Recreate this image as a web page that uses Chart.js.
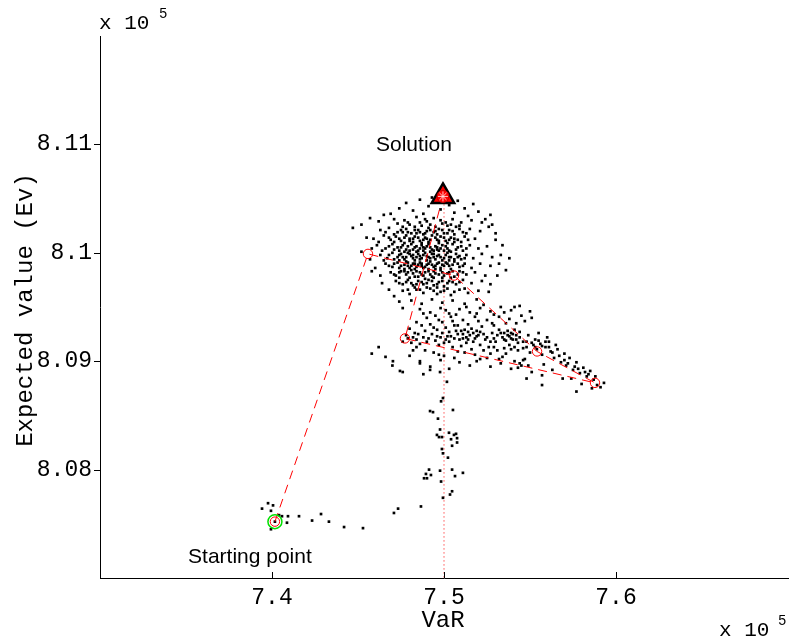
<!DOCTYPE html>
<html>
<head>
<meta charset="utf-8">
<script src="https://cdn.jsdelivr.net/npm/chart.js@4.4.0/dist/chart.umd.min.js"></script>
<style>
  html, body { margin: 0; padding: 0; background: #fff; }
  #wrap { width: 789px; height: 644px; }
</style>
</head>
<body>
<div id="wrap"><canvas id="chart" width="789" height="644"></canvas></div>
<script>
// values are in units of 10^5, as on the axes
const xRange = [7.3, 7.7];
const yRange = [8.07, 8.12];
const xTicks = [7.4, 7.5, 7.6];
const xTickLabels = ['7.4', '7.5', '7.6'];
const yTicks = [8.08, 8.09, 8.10, 8.11];
const yTickLabels = ['8.08', '8.09', '8.1', '8.11'];

// search path (red dashed with circles), start -> solution
const pathPoints = [
  [7.4017, 8.0752], [7.4558, 8.0999], [7.5058, 8.0979], [7.5541, 8.0909],
  [7.5878, 8.0880], [7.4773, 8.0921], [7.4994, 8.1052]
];
const startPoint = [7.4017, 8.0752];
const solutionPoint = [7.4994, 8.1052];
const solutionDrop = [[7.5, 8.1052], [7.5, 8.07]];

// sampled points (black dots)
const cloudPoints = [
  // near the solution
  [7.478,8.1046],[7.486,8.1049],[7.491,8.1043],[7.496,8.1047],[7.503,8.1044],[7.508,8.1048],[7.512,8.1041],[7.517,8.1045],
  [7.482,8.1039],[7.488,8.1036],[7.506,8.1037],[7.514,8.1034],[7.520,8.1038],[7.474,8.1041],[7.469,8.1036],[7.524,8.1031],
  [7.527,8.1035],[7.498,8.1040],[7.493,8.1051],[7.501,8.1050],
  // main cloud
  [7.471,8.1031],[7.479,8.1028],[7.484,8.1033],[7.490,8.1029],[7.494,8.1032],[7.499,8.1027],[7.505,8.1031],[7.510,8.1028],
  [7.516,8.1030],[7.487,8.1025],[7.476,8.1024],
  [7.463,8.1021],[7.468,8.1023],[7.473,8.1019],[7.478,8.1022],[7.481,8.1018],[7.485,8.1021],[7.488,8.1017],[7.491,8.1023],
  [7.494,8.1019],[7.497,8.1022],[7.500,8.1018],[7.503,8.1021],[7.507,8.1024],[7.511,8.1019],[7.515,8.1022],[7.521,8.1020],[7.526,8.1024],
  [7.459,8.1013],[7.465,8.1016],[7.469,8.1012],[7.472,8.1015],[7.475,8.1011],[7.478,8.1016],[7.480,8.1013],[7.483,8.1015],
  [7.486,8.1011],[7.489,8.1014],[7.491,8.1010],[7.493,8.1016],[7.496,8.1012],[7.498,8.1015],[7.501,8.1011],[7.504,8.1014],
  [7.508,8.1012],[7.512,8.1015],[7.518,8.1013],[7.530,8.1012],
  [7.461,8.1007],[7.466,8.1004],[7.470,8.1008],[7.473,8.1005],[7.476,8.1007],[7.478,8.1003],[7.481,8.1008],[7.483,8.1005],
  [7.485,8.1002],[7.487,8.1007],[7.489,8.1004],[7.491,8.1008],[7.493,8.1003],[7.495,8.1006],[7.497,8.1002],[7.499,8.1007],
  [7.502,8.1004],[7.505,8.1008],[7.508,8.1005],[7.511,8.1002],[7.515,8.1007],[7.520,8.1004],[7.525,8.1006],
  [7.463,8.0998],[7.467,8.0995],[7.470,8.1000],[7.473,8.0996],[7.475,8.0999],[7.477,8.0994],[7.479,8.1000],[7.481,8.0997],
  [7.483,8.0993],[7.485,8.0999],[7.487,8.0995],[7.489,8.1000],[7.491,8.0996],[7.493,8.0999],[7.495,8.0994],[7.497,8.0998],
  [7.500,8.0995],[7.502,8.1000],[7.504,8.0996],[7.507,8.0999],[7.510,8.0994],[7.513,8.0998],[7.517,8.0995],[7.522,8.0999],[7.528,8.0996],
  [7.466,8.0990],[7.470,8.0987],[7.473,8.0991],[7.475,8.0988],[7.478,8.0992],[7.480,8.0986],[7.482,8.0990],[7.484,8.0987],
  [7.486,8.0991],[7.488,8.0986],[7.490,8.0989],[7.492,8.0992],[7.494,8.0987],[7.496,8.0990],[7.498,8.0986],[7.501,8.0991],
  [7.503,8.0988],[7.506,8.0992],[7.509,8.0987],[7.512,8.0990],[7.516,8.0986],[7.521,8.0990],[7.527,8.0988],
  [7.469,8.0982],[7.472,8.0979],[7.475,8.0983],[7.478,8.0980],[7.481,8.0984],[7.483,8.0978],[7.486,8.0982],[7.488,8.0979],
  [7.491,8.0983],[7.493,8.0978],[7.495,8.0981],[7.498,8.0984],[7.500,8.0979],[7.503,8.0982],[7.506,8.0978],[7.509,8.0983],
  [7.513,8.0980],[7.518,8.0982],[7.524,8.0979],
  [7.472,8.0974],[7.476,8.0971],[7.479,8.0975],[7.482,8.0970],[7.485,8.0974],[7.488,8.0971],[7.491,8.0975],[7.494,8.0970],
  [7.497,8.0973],[7.500,8.0969],[7.503,8.0974],[7.507,8.0971],[7.511,8.0975],[7.516,8.0972],[7.522,8.0974],
  [7.476,8.0965],[7.480,8.0962],[7.484,8.0966],[7.488,8.0963],[7.492,8.0967],[7.496,8.0962],[7.500,8.0965],[7.504,8.0961],
  [7.509,8.0966],[7.514,8.0963],[7.520,8.0965],
  [7.481,8.0956],[7.487,8.0953],[7.493,8.0957],[7.499,8.0954],[7.505,8.0956],[7.512,8.0953],[7.519,8.0957],
  [7.480,8.1026],[7.492,8.1026],[7.502,8.1025],[7.484,8.1018],[7.490,8.1020],[7.496,8.1017],[7.506,8.1017],[7.476,8.1019],
  [7.482,8.1010],[7.487,8.1009],[7.492,8.1012],[7.497,8.1009],[7.502,8.1009],[7.506,8.1010],[7.477,8.1009],[7.474,8.1002],
  [7.480,8.1002],[7.484,8.1001],[7.488,8.1002],[7.492,8.1001],[7.496,8.1003],[7.500,8.1002],[7.504,8.1001],[7.476,8.0996],
  [7.482,8.0995],[7.486,8.0997],[7.490,8.0993],[7.494,8.0996],[7.499,8.0993],[7.503,8.0993],[7.508,8.0996],[7.474,8.0993],
  [7.479,8.0988],[7.483,8.0985],[7.487,8.0988],[7.491,8.0985],[7.495,8.0985],[7.499,8.0989],[7.504,8.0985],[7.477,8.0985],
  [7.480,8.0977],[7.485,8.0978],[7.489,8.0976],[7.494,8.0977],[7.499,8.0977],[7.504,8.0977],[7.474,8.0977],[7.483,8.0968],
  [7.490,8.0968],[7.496,8.0968],[7.502,8.0967],
  [7.473,8.1027],[7.477,8.1030],[7.483,8.1024],[7.486,8.1028],[7.489,8.1031],[7.495,8.1024],[7.498,8.1030],[7.501,8.1028],
  [7.504,8.1026],[7.509,8.1025],
  [7.466,8.1019],[7.471,8.1017],[7.475,8.1021],[7.479,8.1019],[7.483,8.1021],[7.486,8.1019],[7.489,8.1018],[7.492,8.1021],
  [7.495,8.1020],[7.499,8.1021],[7.502,8.1018],[7.505,8.1020],[7.509,8.1022],[7.513,8.1018],
  [7.462,8.1010],[7.468,8.1014],[7.471,8.1010],[7.474,8.1013],[7.477,8.1014],[7.480,8.1011],[7.482,8.1013],[7.485,8.1014],
  [7.488,8.1012],[7.490,8.1013],[7.495,8.1014],[7.497,8.1011],[7.500,8.1014],[7.503,8.1012],[7.506,8.1013],[7.510,8.1010],[7.514,8.1012],
  [7.464,8.1002],[7.468,8.1006],[7.471,8.1003],[7.475,8.1005],[7.477,8.1001],[7.479,8.1006],[7.482,8.1003],[7.484,8.1006],
  [7.486,8.1004],[7.488,8.1005],[7.490,8.1006],[7.492,8.1005],[7.494,8.1002],[7.496,8.1005],[7.498,8.1004],[7.501,8.1006],
  [7.503,8.1002],[7.507,8.1003],[7.510,8.1006],[7.513,8.1004],
  [7.465,8.0993],[7.468,8.0998],[7.471,8.0994],[7.474,8.0998],[7.478,8.0996],[7.480,8.0999],[7.482,8.0998],[7.484,8.0996],
  [7.486,8.0994],[7.488,8.0998],[7.490,8.0997],[7.492,8.0995],[7.494,8.0999],[7.496,8.0997],[7.498,8.0996],[7.501,8.0998],
  [7.503,8.0996],[7.506,8.0994],[7.509,8.0997],[7.512,8.0995],
  [7.468,8.0988],[7.471,8.0990],[7.474,8.0986],[7.477,8.0989],[7.479,8.0991],[7.481,8.0988],[7.483,8.0990],[7.485,8.0989],
  [7.487,8.0990],[7.489,8.0987],[7.491,8.0990],[7.493,8.0989],[7.495,8.0988],[7.497,8.0991],[7.500,8.0988],[7.502,8.0990],
  [7.505,8.0989],[7.508,8.0990],[7.511,8.0988],
  [7.471,8.0980],[7.474,8.0982],[7.477,8.0983],[7.479,8.0982],[7.482,8.0981],[7.484,8.0983],[7.487,8.0980],[7.489,8.0982],
  [7.492,8.0980],[7.494,8.0983],[7.497,8.0980],[7.499,8.0982],[7.502,8.0981],[7.505,8.0983],[7.508,8.0980],[7.511,8.0982],
  [7.474,8.0972],[7.478,8.0973],[7.481,8.0972],[7.484,8.0971],[7.487,8.0973],[7.490,8.0972],[7.493,8.0974],[7.496,8.0971],
  [7.499,8.0974],[7.502,8.0972],[7.505,8.0973],[7.509,8.0973],
  [7.479,8.0966],[7.486,8.0966],[7.494,8.0965],[7.498,8.0964],[7.506,8.0964],[7.512,8.0967],
  // edges of the cloud
  [7.447,8.1023],[7.452,8.1026],[7.455,8.1014],[7.458,8.1004],[7.452,8.1001],[7.457,8.0994],[7.460,8.0986],[7.463,8.0979],
  [7.458,8.0983],[7.464,8.0972],[7.468,8.0966],[7.471,8.0960],[7.474,8.0955],[7.476,8.0949],[7.530,8.1018],[7.534,8.1007],
  [7.533,8.0998],[7.532,8.0990],[7.536,8.0984],[7.531,8.0979],[7.527,8.0971],[7.526,8.0964],[7.457,8.1032],[7.462,8.1029],
  [7.465,8.1035],[7.522,8.1028],[7.528,8.1026],[7.538,8.0995],
  // between cloud and lower band
  [7.486,8.0948],[7.492,8.0945],[7.498,8.0949],[7.503,8.0944],[7.509,8.0948],[7.515,8.0945],[7.521,8.0949],[7.527,8.0946],
  [7.533,8.0950],[7.539,8.0947],[7.544,8.0951],[7.490,8.0940],[7.497,8.0938],[7.504,8.0941],[7.511,8.0938],[7.518,8.0941],
  [7.525,8.0938],[7.532,8.0941],[7.538,8.0939],[7.545,8.0942],[7.551,8.0940],[7.484,8.0936],[7.550,8.0946],
  [7.492,8.0934],[7.496,8.0929],[7.499,8.0936],[7.501,8.0931],[7.503,8.0927],[7.505,8.0937],[7.508,8.0933],[7.504,8.0923],
  [7.498,8.0922],[7.487,8.0933],[7.480,8.0930],
  [7.488,8.0944],[7.495,8.0942],[7.501,8.0947],[7.507,8.0943],[7.513,8.0950],[7.519,8.0944],[7.523,8.0952],[7.529,8.0943],
  [7.535,8.0945],[7.541,8.0950],[7.547,8.0937],[7.542,8.0935],[7.528,8.0935],[7.514,8.0934],[7.520,8.0937],
  // lower band
  [7.476,8.0918],[7.479,8.0921],[7.481,8.0917],[7.484,8.0920],[7.486,8.0916],[7.488,8.0922],[7.490,8.0918],[7.483,8.0926],
  [7.489,8.0928],[7.493,8.0925],[7.495,8.0919],[7.497,8.0915],[7.494,8.0931],
  [7.500,8.0917],[7.502,8.0923],[7.505,8.0913],[7.507,8.0928],[7.509,8.0920],[7.511,8.0925],[7.512,8.0929],[7.513,8.0922],
  [7.514,8.0927],[7.515,8.0924],[7.516,8.0930],[7.517,8.0926],[7.518,8.0921],[7.519,8.0928],[7.520,8.0924],[7.510,8.0914],
  [7.506,8.0933],[7.516,8.0911],[7.513,8.0917],[7.521,8.0915],[7.522,8.0932],[7.508,8.0909],
  [7.524,8.0920],[7.526,8.0913],[7.528,8.0926],[7.530,8.0918],[7.532,8.0929],[7.534,8.0922],[7.535,8.0926],[7.536,8.0919],
  [7.537,8.0928],[7.538,8.0923],[7.539,8.0926],[7.540,8.0920],[7.541,8.0929],[7.542,8.0924],[7.543,8.0917],[7.544,8.0927],
  [7.527,8.0907],[7.531,8.0910],[7.534,8.0904],[7.529,8.0933],[7.536,8.0935],[7.525,8.0903],
  [7.538,8.0915],[7.541,8.0913],[7.543,8.0910],[7.539,8.0911],
  [7.541,8.0900],[7.544,8.0898],[7.546,8.0901],[7.549,8.0896],[7.543,8.0894],
  [7.546,8.0912],[7.548,8.0918],[7.550,8.0908],[7.552,8.0915],[7.553,8.0920],[7.554,8.0911],[7.556,8.0916],[7.557,8.0906],
  [7.559,8.0913],[7.561,8.0918],[7.562,8.0909],[7.564,8.0903],[7.566,8.0911],[7.568,8.0899],[7.549,8.0924],[7.555,8.0926],
  [7.560,8.0922],[7.547,8.0902],[7.558,8.0897],[7.565,8.0915],
  [7.571,8.0896],[7.573,8.0903],[7.575,8.0892],[7.577,8.0899],[7.579,8.0889],[7.581,8.0894],[7.583,8.0886],[7.585,8.0891],
  [7.587,8.0883],[7.589,8.0878],[7.591,8.0876],[7.593,8.0880],[7.574,8.0884],[7.580,8.0879],[7.586,8.0875],[7.570,8.0907],
  [7.478,8.0924],[7.482,8.0922],[7.485,8.0925],[7.491,8.0921],[7.496,8.0923],[7.499,8.0926],[7.501,8.0920],[7.503,8.0918],
  [7.506,8.0921],[7.508,8.0925],[7.510,8.0928],[7.511,8.0921],[7.514,8.0920],[7.517,8.0918],[7.519,8.0923],[7.521,8.0927],
  [7.523,8.0925],[7.525,8.0922],[7.527,8.0918],[7.529,8.0921],[7.531,8.0924],[7.533,8.0926],[7.535,8.0920],[7.537,8.0924],
  [7.539,8.0921],[7.540,8.0925],[7.542,8.0920],[7.544,8.0922],[7.546,8.0918],[7.548,8.0913],[7.551,8.0917],[7.553,8.0913],
  [7.555,8.0919],[7.557,8.0914],[7.559,8.0918],[7.561,8.0913],[7.563,8.0908],[7.567,8.0905],[7.570,8.0901],[7.572,8.0898],
  [7.576,8.0895],[7.578,8.0893],[7.582,8.0890],[7.584,8.0888],[7.588,8.0886],
  [7.512,8.0908],[7.518,8.0906],[7.523,8.0910],[7.529,8.0913],[7.535,8.0912],[7.536,8.0907],[7.532,8.0902],[7.519,8.0900],
  [7.506,8.0903],[7.497,8.0906],[7.489,8.0910],[7.484,8.0913],
  [7.466,8.0904],[7.470,8.0896],[7.480,8.0905],[7.486,8.0898],[7.492,8.0895],[7.498,8.0901],[7.503,8.0893],[7.509,8.0899],
  [7.515,8.0896],[7.521,8.0902],[7.527,8.0895],[7.533,8.0898],[7.539,8.0893],[7.545,8.0896],[7.551,8.0890],[7.557,8.0887],
  [7.563,8.0892],[7.569,8.0884],[7.577,8.0872],[7.557,8.0878],[7.548,8.0884],[7.476,8.0890],[7.488,8.0888],[7.482,8.0910],
  [7.494,8.0908],[7.500,8.0905],[7.458,8.0907],[7.462,8.0913],
  [7.4703,8.0900],[7.4744,8.0891],[7.4860,8.0900],[7.4919,8.0892],[7.4977,8.0890],
  // trail below the solution
  [7.5017,8.0881],[7.4994,8.0866],[7.4983,8.0863],[7.4919,8.0854],[7.4936,8.0853],[7.5052,8.0855],[7.4965,8.0847],[7.4977,8.0837],
  [7.5029,8.0834],[7.4959,8.0832],[7.4971,8.0830],[7.4988,8.0830],[7.5058,8.0832],[7.5070,8.0833],[7.5041,8.0828],[7.5076,8.0829],
  [7.5076,8.0825],[7.5047,8.0822],[7.4988,8.0819],[7.4994,8.0815],[7.5023,8.0811],[7.4913,8.0800],[7.4977,8.0799],[7.5047,8.0800],
  [7.4895,8.0796],[7.4924,8.0795],[7.5110,8.0797],[7.5064,8.0794],[7.4884,8.0792],[7.4901,8.0792],[7.4983,8.0789],[7.5047,8.0780],
  [7.5035,8.0777],[7.4994,8.0774],[7.4866,8.0766],[7.4709,8.0760],[7.4733,8.0764],
  // trail near the start
  [7.3942,8.0764],[7.3977,8.0769],[7.4006,8.0767],[7.3994,8.0762],[7.4041,8.0758],[7.4058,8.0757],[7.4093,8.0757],[7.4157,8.0757],
  [7.4233,8.0753],[7.4285,8.0759],[7.4331,8.0752],[7.4419,8.0747],[7.4529,8.0746],[7.4087,8.0751],[7.3994,8.0745],[7.4017,8.0752]
];

const toXY = (p) => ({ x: p[0], y: p[1] });
const monoFont = '"Liberation Mono", "Courier New", monospace';
const sansFont = '"Liberation Sans", Arial, sans-serif';

// text annotations and tick marks, drawn after the datasets
const annotations = {
  id: 'annotations',
  afterDraw(chart) {
    const { ctx, chartArea, scales } = chart;
    const xs = scales.x, ys = scales.y;
    ctx.save();
    ctx.strokeStyle = '#000';
    ctx.lineWidth = 1;
    // x ticks point inward
    xTicks.forEach(v => {
      const px = Math.round(xs.getPixelForValue(v)) + 0.5;
      ctx.beginPath();
      ctx.moveTo(px, chartArea.bottom);
      ctx.lineTo(px, chartArea.bottom - 6);
      ctx.stroke();
    });
    // y ticks
    yTicks.forEach(v => {
      const py = Math.round(ys.getPixelForValue(v)) + 0.5;
      ctx.beginPath();
      ctx.moveTo(chartArea.left, py);
      ctx.lineTo(chartArea.left - 6, py);
      ctx.stroke();
    });

    ctx.fillStyle = '#000';
    ctx.textBaseline = 'alphabetic';
    // exponent labels
    ctx.textAlign = 'left';
    ctx.font = '21px ' + monoFont;
    ctx.fillText('x 10', chartArea.left - 1, 29);
    ctx.fillText('x 10', 719, 636);
    ctx.font = '14px ' + monoFont;
    ctx.fillText('5', 159, 18);
    ctx.fillText('5', 778, 625);

    // axis titles
    ctx.font = '24px ' + monoFont;
    ctx.textAlign = 'center';
    ctx.fillText('VaR', (chartArea.left + chartArea.right) / 2 - 1, 627);
    ctx.save();
    ctx.translate(32, (chartArea.top + chartArea.bottom) / 2 + 3);
    ctx.rotate(-Math.PI / 2);
    ctx.fillText('Expected value (Ev)', 0, 0);
    ctx.restore();

    // point labels
    ctx.font = '21px ' + sansFont;
    const sx = xs.getPixelForValue(solutionPoint[0]);
    const sy = ys.getPixelForValue(solutionPoint[1]);
    ctx.fillText('Solution', sx - 29, sy - 45);
    const stx = xs.getPixelForValue(startPoint[0]);
    const sty = ys.getPixelForValue(startPoint[1]);
    ctx.fillText('Starting point', stx - 25, sty + 41);
    ctx.restore();
  }
};

new Chart(document.getElementById('chart'), {
  type: 'scatter',
  data: {
    datasets: [
      {
        // crosshair inside the solution marker
        data: [toXY(solutionPoint)],
        pointStyle: 'star',
        pointRadius: 5,
        pointBorderColor: 'rgba(255,220,220,0.9)',
        pointBorderWidth: 1,
        order: 0
      },
      {
        data: [toXY(solutionPoint)],
        pointStyle: 'circle',
        pointRadius: 6,
        pointBackgroundColor: '#ff0000',
        pointBorderColor: '#c00000',
        pointBorderWidth: 1,
        order: 1
      },
      {
        data: [toXY(solutionPoint)],
        pointStyle: 'triangle',
        pointRadius: 13,
        pointBackgroundColor: '#ff0000',
        pointBorderColor: '#000',
        pointBorderWidth: 2.5,
        order: 2
      },
      {
        data: [toXY(startPoint)],
        pointStyle: 'circle',
        pointRadius: 7,
        pointBackgroundColor: 'rgba(0,0,0,0)',
        pointBorderColor: '#00e000',
        pointBorderWidth: 1.5,
        order: 3
      },
      {
        data: pathPoints.map(toXY),
        showLine: true,
        borderColor: '#ff0000',
        borderWidth: 1,
        borderDash: [9, 6],
        tension: 0,
        pointStyle: 'circle',
        pointRadius: 4.7,
        pointBackgroundColor: 'rgba(0,0,0,0)',
        pointBorderColor: '#ff0000',
        pointBorderWidth: 1,
        order: 4
      },
      {
        data: cloudPoints.map(toXY),
        pointStyle: 'rect',
        pointRadius: 1.9,
        pointBackgroundColor: '#000',
        pointBorderWidth: 0,
        order: 5
      },
      {
        data: solutionDrop.map(toXY),
        showLine: true,
        borderColor: '#ff0000',
        borderWidth: 1,
        borderDash: [1, 3],
        pointRadius: 0,
        order: 6
      }
    ]
  },
  options: {
    responsive: false,
    animation: false,
    events: [],
    layout: { autoPadding: false, padding: { top: 36, right: 1, left: 0, bottom: 0 } },
    plugins: { legend: { display: false }, tooltip: { enabled: false } },
    scales: {
      x: {
        type: 'linear',
        min: xRange[0],
        max: xRange[1],
        afterBuildTicks: (s) => { s.ticks = xTicks.map(v => ({ value: v })); },
        afterFit: (s) => { s.height = 66; s.paddingLeft = 0; s.paddingRight = 0; },
        grid: { display: false, drawTicks: false },
        border: { display: true, color: '#000', width: 1 },
        ticks: {
          padding: 6,
          color: '#000',
          font: { family: monoFont, size: 23 },
          callback: (v, i) => xTickLabels[i]
        }
      },
      y: {
        type: 'linear',
        min: yRange[0],
        max: yRange[1],
        afterBuildTicks: (s) => { s.ticks = yTicks.map(v => ({ value: v })); },
        afterFit: (s) => { s.width = 100; s.paddingTop = 0; s.paddingBottom = 0; },
        grid: { display: false, drawTicks: false },
        border: { display: true, color: '#000', width: 1 },
        ticks: {
          padding: 8,
          color: '#000',
          font: { family: monoFont, size: 23 },
          callback: (v, i) => yTickLabels[i]
        }
      }
    }
  },
  plugins: [annotations]
});
</script>
</body>
</html>
